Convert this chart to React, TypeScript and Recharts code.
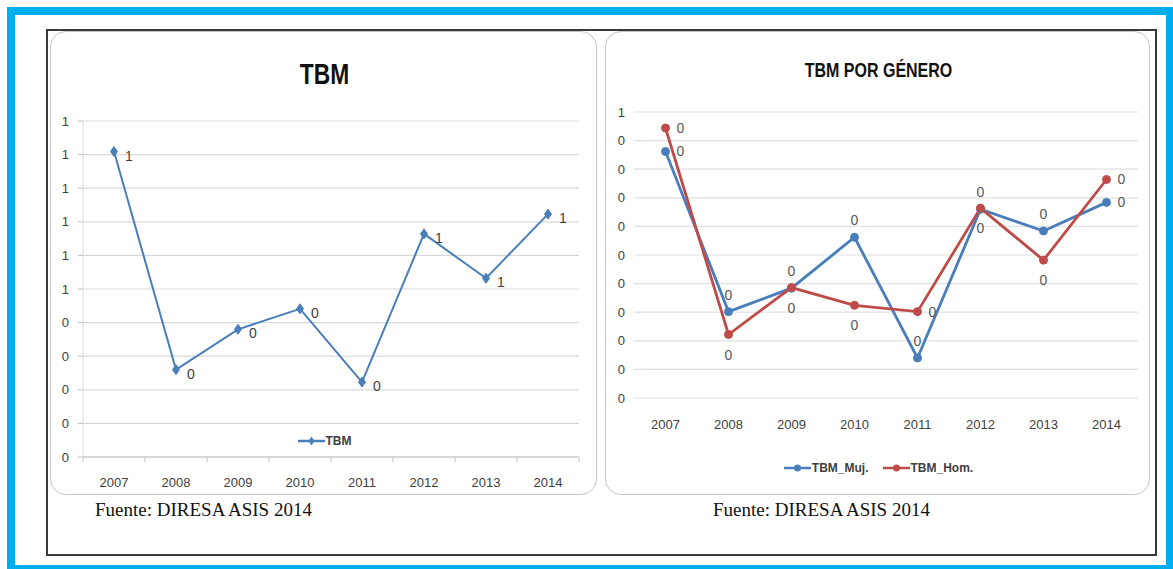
import React from 'react';
import { LineChart, Line, XAxis, YAxis, CartesianGrid, Legend, LabelList } from 'recharts';

const YEARS = ['2007', '2008', '2009', '2010', '2011', '2012', '2013', '2014'];
const TBM = [0.909, 0.26, 0.38, 0.441, 0.223, 0.664, 0.532, 0.723];
const TBM_MUJ = [0.431, 0.151, 0.192, 0.281, 0.07, 0.33, 0.292, 0.342];
const TBM_HOM = [0.472, 0.111, 0.193, 0.162, 0.151, 0.332, 0.241, 0.382];
const LEFT_Y_TICKS = [0, 0.1, 0.2, 0.3, 0.4, 0.5, 0.6, 0.7, 0.8, 0.9, 1];
const RIGHT_Y_TICKS = [0, 0.05, 0.1, 0.15, 0.2, 0.25, 0.3, 0.35, 0.4, 0.45, 0.5];
const SERIES_NAMES = ['TBM', 'TBM_Muj.', 'TBM_Hom.'];

const leftData = YEARS.map((year, i) => ({ year, tbm: TBM[i] }));
const rightData = YEARS.map((year, i) => ({ year, muj: TBM_MUJ[i], hom: TBM_HOM[i] }));

// label placement styles (not data)
const MUJ_LABEL_POS = ['right', 'top', 'top', 'top', 'top', 'top', 'top', 'right'];
const HOM_LABEL_POS = ['right', 'bottom', 'bottom', 'bottom', 'right', 'bottom', 'bottom', 'right'];

const FONT = '"Liberation Sans", Arial, sans-serif';
const SERIF = '"Liberation Serif", "Times New Roman", serif';
const BLUE = '#4A7EBB';
const RED = '#BE4B48';
const TXT = '#404040';

const LEFT_W = 547;
const LEFT_H = 464;
const LEFT_YW = 32;
const LEFT_MR = 19;
const LEFT_PLOT_W = LEFT_W - LEFT_YW - LEFT_MR;

const RIGHT_W = 545;
const RIGHT_H = 464;
const RIGHT_YW = 28;
const RIGHT_MR = 13;
const RIGHT_PLOT_W = RIGHT_W - RIGHT_YW - RIGHT_MR;

const fmt = (v: number) => String(Math.round(v));

const Diamond = (props: any) => {
  const { cx, cy, index } = props;
  if (cx == null || cy == null) return null;
  return (
    <polygon
      key={`dm-${index}`}
      points={`${cx},${cy - 5} ${cx + 3.5},${cy} ${cx},${cy + 5} ${cx - 3.5},${cy}`}
      fill={BLUE}
      stroke={BLUE}
    />
  );
};

const LeftXTick = (props: any) => {
  const { x, y, payload, index } = props;
  const half = LEFT_PLOT_W / YEARS.length / 2;
  const axisY = y - 21;
  return (
    <g>
      <line x1={x - half} x2={x - half} y1={axisY} y2={axisY + 5} stroke="#bfbfbf" />
      {index === YEARS.length - 1 && (
        <line x1={x + half} x2={x + half} y1={axisY} y2={axisY + 5} stroke="#bfbfbf" />
      )}
      <text x={x} y={y} dy="0.71em" textAnchor="middle" fontSize={13} fill={TXT} fontFamily={FONT}>
        {payload.value}
      </text>
    </g>
  );
};

const leftLabel = (props: any) => {
  const { x, y, value, index } = props;
  return (
    <text key={`ll-${index}`} x={x + 11} y={y + 4} dominantBaseline="central" fontSize={14} fill={TXT} fontFamily={FONT}>
      {fmt(value)}
    </text>
  );
};

const makeRightLabel = (positions: string[]) => (props: any) => {
  const { x, y, value, index } = props;
  const pos = positions[index];
  let tx = x;
  let ty = y;
  let anchor: any = 'middle';
  if (pos === 'right') {
    tx = x + 11;
    anchor = 'start';
  } else if (pos === 'top') {
    ty = y - 17;
  } else {
    ty = y + 20;
  }
  return (
    <text key={`rl-${index}`} x={tx} y={ty} textAnchor={anchor} dominantBaseline="central" fontSize={14} fill="#595959" fontFamily={FONT}>
      {fmt(value)}
    </text>
  );
};

const renderLegend = (marker: 'diamond' | 'circle') => (props: any) => {
  const { payload = [] } = props;
  const items = [...payload].sort(
    (a: any, b: any) => SERIES_NAMES.indexOf(a.value) - SERIES_NAMES.indexOf(b.value)
  );
  return (
    <div style={{ display: 'flex', justifyContent: 'center', alignItems: 'center', gap: 14 }}>
      {items.map((e: any) => (
        <div key={e.value} style={{ display: 'flex', alignItems: 'center' }}>
          <svg width={27} height={12}>
            <line x1={0} y1={6} x2={27} y2={6} stroke={e.color} strokeWidth={2.5} />
            {marker === 'diamond' ? (
              <polygon points="13.5,1.5 16.5,6 13.5,10.5 10.5,6" fill={e.color} />
            ) : (
              <circle cx={13.5} cy={6} r={3.5} fill={e.color} />
            )}
          </svg>
          <span style={{ fontSize: 12, fontWeight: 700, color: TXT, fontFamily: FONT, marginLeft: 1, lineHeight: '12px' }}>
            {e.value}
          </span>
        </div>
      ))}
    </div>
  );
};

const panelStyle: React.CSSProperties = {
  position: 'absolute',
  border: '1.5px solid #c6c6c6',
  borderRadius: 16,
  background: '#fff',
  boxSizing: 'border-box',
  overflow: 'hidden',
};

export default function App() {
  return (
    <div style={{ position: 'absolute', left: 0, top: 0, width: 1173, height: 569, background: '#fff', overflow: 'hidden', fontFamily: FONT }}>
      {/* outer blue frame */}
      <div style={{ position: 'absolute', left: 7, top: 7, width: 1151, height: 550, border: '8px solid #00AEEF' }} />
      {/* black frame */}
      <div style={{ position: 'absolute', left: 46, top: 29, width: 1107, height: 523, border: '2px solid #3a3a3a' }} />

      {/* left panel */}
      <div style={{ ...panelStyle, left: 50, top: 31, width: LEFT_W, height: LEFT_H }}>
        <div style={{ position: 'absolute', left: 0, top: 0 }}>
          <LineChart
            width={LEFT_W}
            height={LEFT_H}
            data={leftData}
            margin={{ top: 89, right: LEFT_MR, left: 0, bottom: 0 }}
          >
            <CartesianGrid vertical={false} stroke="#d9d9d9" strokeWidth={1.2} />
            <XAxis
              dataKey="year"
              interval={0}
              padding={{ left: 31, right: 31 }}
              height={39}
              tickLine={false}
              axisLine={{ stroke: '#bfbfbf', strokeWidth: 1.2 }}
              tickSize={5}
              tickMargin={16}
              tick={<LeftXTick />}
            />
            <YAxis
              domain={[0, 1]}
              ticks={LEFT_Y_TICKS}
              tickFormatter={fmt}
              width={LEFT_YW}
              interval={0}
              axisLine={{ stroke: '#d9d9d9' }}
              tickLine={{ stroke: '#bfbfbf' }}
              tickSize={5}
              tickMargin={9}
              tick={{ fontSize: 13, fill: TXT, fontFamily: FONT }}
            />
            <Legend
              layout="horizontal"
              verticalAlign="middle"
              align="center"
              content={renderLegend('diamond')}
              wrapperStyle={{ top: 403, left: 0, width: LEFT_W }}
            />
            <Line
              dataKey="tbm"
              name={SERIES_NAMES[0]}
              stroke={BLUE}
              strokeWidth={2}
              dot={Diamond}
              activeDot={false}
              isAnimationActive={false}
            >
              <LabelList dataKey="tbm" content={leftLabel} />
            </Line>
          </LineChart>
        </div>
        <div
          style={{
            position: 'absolute',
            left: 0,
            width: LEFT_W,
            top: 27,
            textAlign: 'center',
            fontSize: 30,
            lineHeight: '30px',
            fontWeight: 700,
            color: '#111',
            transform: 'scaleX(0.76)',
          }}
        >
          TBM
        </div>
      </div>

      {/* right panel */}
      <div style={{ ...panelStyle, left: 605, top: 31, width: RIGHT_W, height: RIGHT_H }}>
        <div style={{ position: 'absolute', left: 0, top: 0 }}>
          <LineChart
            width={RIGHT_W}
            height={RIGHT_H}
            data={rightData}
            margin={{ top: 80, right: RIGHT_MR, left: 0, bottom: 0 }}
          >
            <CartesianGrid vertical={false} stroke="#e0e0e0" strokeWidth={1.2} />
            <XAxis
              dataKey="year"
              interval={0}
              padding={{ left: RIGHT_PLOT_W / 16, right: RIGHT_PLOT_W / 16 }}
              height={98}
              tickLine={false}
              axisLine={false}
              tickSize={0}
              tickMargin={22}
              tick={{ fontSize: 13, fill: TXT, fontFamily: FONT }}
            />
            <YAxis
              domain={[0, 0.5]}
              ticks={RIGHT_Y_TICKS}
              tickFormatter={fmt}
              width={RIGHT_YW}
              interval={0}
              axisLine={false}
              tickLine={false}
              tickSize={0}
              tickMargin={9}
              tick={{ fontSize: 13, fill: TXT, fontFamily: FONT }}
            />
            <Legend
              layout="horizontal"
              verticalAlign="middle"
              align="center"
              content={renderLegend('circle')}
              wrapperStyle={{ top: 430, left: 0, width: RIGHT_W }}
            />
            <Line
              dataKey="muj"
              name={SERIES_NAMES[1]}
              stroke={BLUE}
              strokeWidth={2.8}
              dot={{ r: 4, fill: BLUE, stroke: BLUE, strokeWidth: 1 }}
              activeDot={false}
              isAnimationActive={false}
            >
              <LabelList dataKey="muj" content={makeRightLabel(MUJ_LABEL_POS)} />
            </Line>
            <Line
              dataKey="hom"
              name={SERIES_NAMES[2]}
              stroke={RED}
              strokeWidth={2.8}
              dot={{ r: 4, fill: RED, stroke: RED, strokeWidth: 1 }}
              activeDot={false}
              isAnimationActive={false}
            >
              <LabelList dataKey="hom" content={makeRightLabel(HOM_LABEL_POS)} />
            </Line>
          </LineChart>
        </div>
        <div
          style={{
            position: 'absolute',
            left: 0,
            width: RIGHT_W,
            top: 28,
            textAlign: 'center',
            fontSize: 20,
            lineHeight: '20px',
            fontWeight: 700,
            color: '#111',
            transform: 'scaleX(0.8)',
          }}
        >
          TBM POR GÉNERO
        </div>
      </div>

      {/* sources */}
      <div style={{ position: 'absolute', left: 95, top: 500, fontFamily: SERIF, fontSize: 19, lineHeight: '19px', color: '#111', whiteSpace: 'nowrap' }}>
        Fuente: DIRESA ASIS 2014
      </div>
      <div style={{ position: 'absolute', left: 713, top: 500, fontFamily: SERIF, fontSize: 19, lineHeight: '19px', color: '#111', whiteSpace: 'nowrap' }}>
        Fuente: DIRESA ASIS 2014
      </div>
    </div>
  );
}
